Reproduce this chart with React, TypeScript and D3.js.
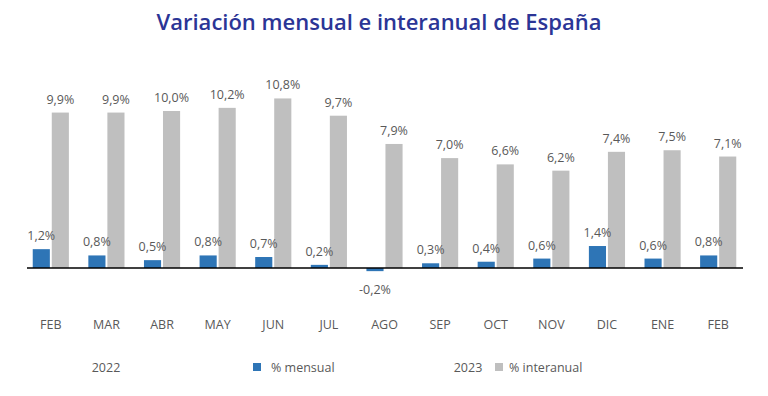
import * as d3 from "d3";

const months = ["FEB", "MAR", "ABR", "MAY", "JUN", "JUL", "AGO", "SEP", "OCT", "NOV", "DIC", "ENE", "FEB"];
const mensual = [1.2, 0.8, 0.5, 0.8, 0.7, 0.2, -0.2, 0.3, 0.4, 0.6, 1.4, 0.6, 0.8];
const interanual = [9.9, 9.9, 10.0, 10.2, 10.8, 9.7, 7.9, 7.0, 6.6, 6.2, 7.4, 7.5, 7.1];
const years = ["2022", "2023"];
const seriesNames = ["% mensual", "% interanual"];

const W = 768;
const H = 396;
const BLUE = "#2E75B6";
const GREY = "#BFBFBF";
const TXT = "#595959";
const FONT = "'Open Sans', sans-serif";

const esLocale = d3.formatLocale({ decimal: ",", thousands: ".", grouping: [3], currency: ["", "€"], minus: "-" });
const fmt = (v: number) => esLocale.format(".1f")(v) + "%";

export default function App() {
  const x = d3
    .scaleBand<number>()
    .domain(d3.range(months.length))
    .range([23, 746])
    .paddingInner(0.35)
    .paddingOuter(0.175);
  const inner = d3.scaleBand<string>().domain(["m", "i"]).range([0, x.bandwidth()]).paddingInner(0.1);
  const y = d3.scaleLinear().domain([0, 10]).range([268, 111]);

  return (
    <div style={{ position: "absolute", left: 0, top: 0, width: W, height: H, background: "#fff" }}>
      <svg width={W} height={H} style={{ display: "block", fontFamily: FONT }}>
        <text x={379} y={30} textAnchor="middle" fontSize={22} fontWeight={600} fill="#2B3596">
          Variación mensual e interanual de España
        </text>

        {months.map((m, i) => {
          const x0 = x(i)!;
          const mv = mensual[i];
          const iv = interanual[i];
          const mx = x0 + inner("m")!;
          const ix = x0 + inner("i")!;
          const bw = inner.bandwidth();
          return (
            <g key={i}>
              <rect x={mx} y={Math.min(y(mv), y(0))} width={bw} height={Math.abs(y(mv) - y(0))} fill={BLUE} />
              <rect x={ix} y={y(iv)} width={bw} height={y(0) - y(iv)} fill={GREY} />
              <text
                x={mx + bw / 2}
                y={mv >= 0 ? y(mv) - 9 : y(mv) + 23}
                textAnchor="middle"
                fontSize={12.5}
                fill={TXT}
              >
                {fmt(mv)}
              </text>
              <text x={ix + bw / 2} y={y(iv) - 9} textAnchor="middle" fontSize={12.5} fill={TXT}>
                {fmt(iv)}
              </text>
              <text x={x0 + x.bandwidth() / 2} y={329} textAnchor="middle" fontSize={12.5} fill={TXT}>
                {m}
              </text>
            </g>
          );
        })}

        <line x1={27} x2={743} y1={y(0)} y2={y(0)} stroke="#000" strokeWidth={1.5} />

        <text x={106} y={372} textAnchor="middle" fontSize={12.5} fill={TXT}>
          {years[0]}
        </text>
        <text x={468} y={372} textAnchor="middle" fontSize={12.5} fill={TXT}>
          {years[1]}
        </text>

        <rect x={253} y={363} width={8} height={8} fill={BLUE} />
        <text x={271} y={372} fontSize={12.5} fill={TXT}>
          {seriesNames[0]}
        </text>
        <rect x={495} y={363} width={8} height={8} fill={GREY} />
        <text x={509} y={372} fontSize={12.5} fill={TXT}>
          {seriesNames[1]}
        </text>
      </svg>
    </div>
  );
}
